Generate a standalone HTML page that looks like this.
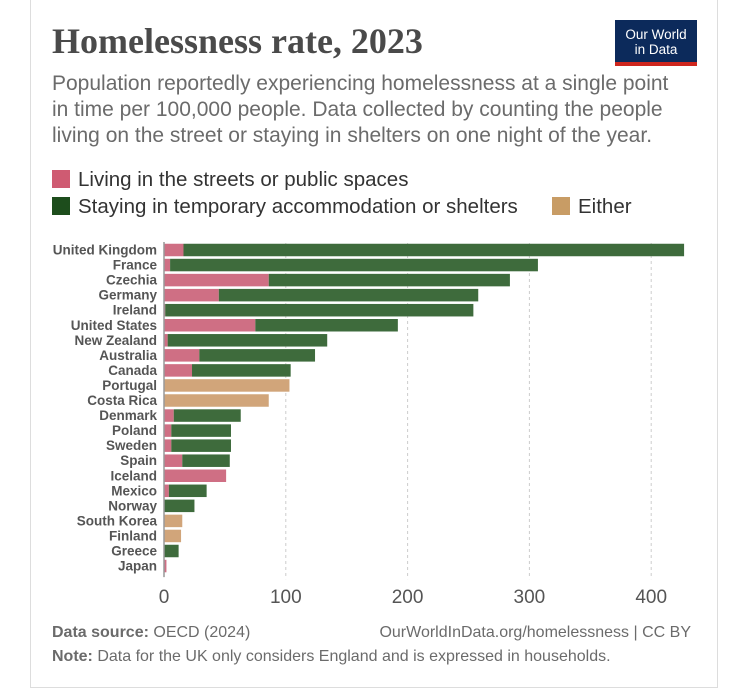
<!DOCTYPE html>
<html><head><meta charset="utf-8"><style>
body{margin:0;background:#fff;font-family:"Liberation Sans",sans-serif;}
#card{position:absolute;left:30px;top:0;width:688px;height:688px;border:1px solid #ddd;border-top:none;box-sizing:border-box;}
.t{position:absolute;white-space:nowrap;}
</style></head><body>
<div id="card"></div>
<div class="t" style="left:52px;top:20px;font-family:'Liberation Serif',serif;font-size:36px;font-weight:bold;color:#4a4a4a;">Homelessness rate, 2023</div>
<div style="position:absolute;left:615px;top:20px;width:82px;height:46px;background:#0c2a5b;border-bottom:4px solid #ce261e;box-sizing:border-box;color:#fff;font-size:13.5px;line-height:15px;text-align:center;padding-top:7px;">Our World<br>in Data</div>
<div class="t" style="left:52px;top:71px;font-size:21px;line-height:26px;color:#6b6b6b;">Population reportedly experiencing homelessness at a single point<br>in time per 100,000 people. Data collected by counting the people<br>living on the street or staying in shelters on one night of the year.</div>
<div style="position:absolute;left:52px;top:168px;font-size:20.5px;color:#333;">
<div class="t" style="left:0;top:0;"><span style="display:inline-block;width:18px;height:18px;background:#cf5b72;vertical-align:-2px;margin-right:8px"></span>Living in the streets or public spaces</div>
<div class="t" style="left:0;top:27px;"><span style="display:inline-block;width:18px;height:18px;background:#1d4d1c;vertical-align:-2px;margin-right:8px"></span>Staying in temporary accommodation or shelters</div>
<div class="t" style="left:500px;top:27px;"><span style="display:inline-block;width:18px;height:18px;background:#c89c65;vertical-align:-2px;margin-right:8px"></span>Either</div>
</div>
<svg id="chart" width="750" height="698" style="position:absolute;left:0;top:0"></svg>
<div class="t" style="left:52px;top:624px;font-size:16px;color:#6b6b6b;"><b>Data source:</b> OECD (2024)</div>
<div class="t" style="right:59px;top:624px;font-size:16px;color:#6b6b6b;">OurWorldInData.org/homelessness | CC BY</div>
<div class="t" style="left:52px;top:648px;font-size:16px;color:#6b6b6b;"><b>Note:</b> Data for the UK only considers England and is expressed in households.</div>
<script>
const countries=["United Kingdom","France","Czechia","Germany","Ireland","United States","New Zealand","Australia","Canada","Portugal","Costa Rica","Denmark","Poland","Sweden","Spain","Iceland","Mexico","Norway","South Korea","Finland","Greece","Japan"];
const street=[16,5,86,45,1,75,3,29,23,0,0,8,6,6,15,51,4,0,0,0,0,2];
const shelter=[411,302,198,213,253,117,131,95,81,0,0,55,49,49,39,0,31,25,0,0,12,0];
const either=[0,0,0,0,0,0,0,0,0,103,86,0,0,0,0,0,0,0,15,14,0,0];
const ticks=[0,100,200,300,400];
const svg=document.getElementById('chart');const NS='http://www.w3.org/2000/svg';
const x0=164,ppu=1.218,y0=250,step=15.05,bh=12.5;
const X=v=>x0+v*ppu;const Y=i=>y0+i*step;
function mk(t,a){const e=document.createElementNS(NS,t);for(const k in a)e.setAttribute(k,a[k]);svg.appendChild(e);return e;}
ticks.forEach(t=>{
 if(t>0){const l=mk('line',{x1:X(t),x2:X(t),y1:y0-7,y2:Y(countries.length)-2,stroke:'#ccc','stroke-dasharray':'3,3'});
 
 }
 const tx=mk('text',{x:X(t),y:603,'text-anchor':'middle','font-size':19,fill:'#555','font-family':'Liberation Sans'});tx.textContent=t;
 
 
});
countries.forEach((c,i)=>{
 const y=Y(i)-bh/2;
 const lb=mk('text',{x:157,y:Y(i)+4.5,'text-anchor':'end','font-size':13.5,'font-weight':'bold',fill:'#555','font-family':'Liberation Sans'});lb.textContent=c;
 
 
 let acc=0;
 [[street[i],'#cf6f84'],[shelter[i],'#3e6b3c'],[either[i],'#d1a57a']].forEach(([v,col])=>{
  if(v>0){const r=mk('rect',{x:X(acc),y:y,width:v*ppu,height:bh,fill:col});
  
  
  acc+=v;}
 });
});
const ax=mk('line',{x1:x0,x2:x0,y1:y0-8,y2:Y(countries.length)-4,stroke:'#999','stroke-width':1.5});


</script>
</body></html>
